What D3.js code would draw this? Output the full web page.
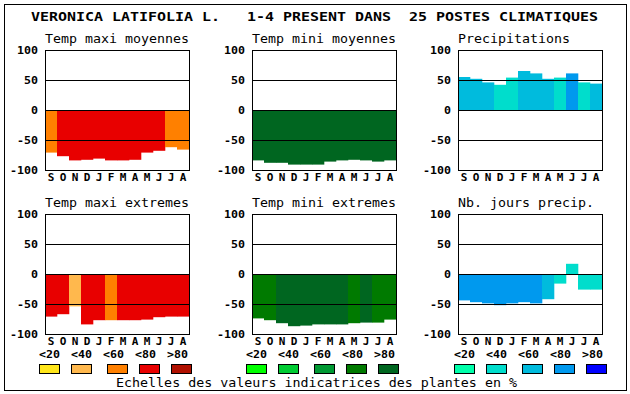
<!DOCTYPE html>
<html><head><meta charset="utf-8">
<script src="https://cdn.jsdelivr.net/npm/d3@7"></script>
<style>body{margin:0;background:#fff}svg{display:block}</style>
</head><body>
<script>
const months = ["S","O","N","D","J","F","M","A","M","J","J","A"];
const tickValues = [100, 50, 0, -50, -100];
const gridValues = [50, 0, -50];
const legendLabels = ["<20","<40","<60","<80",">80"];
const tempColors = ["#ffe61a","#ffb84d","#ff8000","#e80000","#b01000"];
const greenColors = ["#00ff00","#00cc33","#009933","#007a00","#006620"];
const blueColors = ["#00ffaa","#00ddcc","#00bbdd","#0099ee","#0000ff"];

const mainTitle = "VERONICA LATIFOLIA L.   1-4 PRESENT DANS  25 POSTES CLIMATIQUES";
const caption = "Echelles des valeurs indicatrices des plantes en %";
const panelTitles = ["Temp maxi moyennes","Temp mini moyennes","Precipitations",
                     "Temp maxi extremes","Temp mini extremes","Nb. jours precip."];

const tmaxMoy      = [-71,-77,-84,-83,-81,-84,-84,-83,-71,-68,-62,-66];
const tmaxMoyClass = [2,3,3,3,3,3,3,3,3,3,2,2];
const tminMoy      = [-84,-88,-88,-91,-91,-91,-86,-84,-83,-84,-86,-84];
const tminMoyClass = [4,4,4,4,4,4,4,4,4,4,4,4];
const precip       = [55,52,46,42,54,65,61,52,54,61,46,44];
const precipClass  = [2,2,2,1,1,2,2,2,1,3,1,2];
const tmaxExt      = [-71,-67,-54,-84,-77,-77,-77,-77,-76,-72,-71,-71];
const tmaxExtClass = [3,3,1,3,3,2,3,3,3,3,3,3];
const tminExt      = [-74,-77,-82,-87,-86,-84,-84,-84,-82,-81,-81,-76];
const tminExtClass = [3,3,4,4,4,4,4,4,3,4,3,3];
const nbJours      = [-44,-47,-49,-52,-49,-47,-49,-42,-16,17,-26,-26];
const nbJoursClass = [3,3,3,3,3,3,3,2,1,1,1,1];

const W = 630, H = 394;
const svg = d3.select("body").append("svg").attr("width", W).attr("height", H);
const MONO = "'DejaVu Sans Mono', 'Liberation Mono', monospace";

svg.append("rect").attr("x",4.5).attr("y",4.5).attr("width",622).attr("height",386)
  .attr("fill","#fff").attr("stroke","#000").attr("stroke-width",1);

svg.append("text").attr("x",31).attr("y",21)
  .attr("font-family",MONO).attr("font-weight","bold").attr("font-size",12)
  .attr("textLength",567).attr("lengthAdjust","spacingAndGlyphs")
  .style("white-space","pre").text(mainTitle);

const plotLefts = [45, 252, 458];
const rowTops = [50, 214];
const plotW = 144, plotH = 120;

const panels = [
  {vals:tmaxMoy, cls:tmaxMoyClass, pal:tempColors},
  {vals:tminMoy, cls:tminMoyClass, pal:greenColors},
  {vals:precip,  cls:precipClass,  pal:blueColors},
  {vals:tmaxExt, cls:tmaxExtClass, pal:tempColors},
  {vals:tminExt, cls:tminExtClass, pal:greenColors},
  {vals:nbJours, cls:nbJoursClass, pal:blueColors}
];

panels.forEach((p, i) => {
  const x0 = plotLefts[i % 3], y0 = rowTops[Math.floor(i / 3)];
  const x = d3.scaleBand().domain(d3.range(12)).range([x0, x0 + plotW]).padding(0);
  const y = d3.scaleLinear().domain([-100, 100]).range([y0 + plotH, y0]);
  const g = svg.append("g");

  g.append("text").attr("x", x0).attr("y", y0 - 7)
    .attr("font-family", MONO).attr("font-size", 13)
    .attr("textLength", panelTitles[i].length * 8).attr("lengthAdjust","spacingAndGlyphs")
    .text(panelTitles[i]);

  g.append("rect").attr("x", x0 + 0.5).attr("y", y0 + 0.5)
    .attr("width", plotW).attr("height", plotH).attr("fill", "#fff");

  g.selectAll(".bar").data(p.vals).join("rect")
    .attr("x", (d, k) => x(k)).attr("width", x.bandwidth() + 0.3)
    .attr("y", d => Math.min(y(0), y(d)))
    .attr("height", d => Math.abs(y(d) - y(0)))
    .attr("fill", (d, k) => p.pal[p.cls[k]]);

  g.selectAll(".grid").data(gridValues).join("line")
    .attr("x1", x0).attr("x2", x0 + plotW)
    .attr("y1", d => Math.round(y(d)) + 0.5).attr("y2", d => Math.round(y(d)) + 0.5)
    .attr("stroke", "#000").attr("stroke-width", 1);

  g.append("rect").attr("x", x0 + 0.5).attr("y", y0 + 0.5)
    .attr("width", plotW).attr("height", plotH)
    .attr("fill", "none").attr("stroke", "#000").attr("stroke-width", 1);

  g.selectAll(".tick").data(tickValues).join("text")
    .attr("x", x0 - 7).attr("y", d => y(d) + 4)
    .attr("text-anchor", "end")
    .attr("font-family", MONO).attr("font-weight", "bold").attr("font-size", 11)
    .attr("textLength", d => String(d).length * 7).attr("lengthAdjust","spacingAndGlyphs")
    .text(d => d);

  g.selectAll(".month").data(months).join("text")
    .attr("x", (d, k) => x(k) + x.bandwidth() / 2).attr("y", y0 + plotH + 11)
    .attr("text-anchor", "middle")
    .attr("font-family", MONO).attr("font-weight", "bold").attr("font-size", 11)
    .text(d => d);
});

const legendStarts = [39, 246, 454];
const boxOffsets = [0, 32, 68, 100, 132];
const palettes = [tempColors, greenColors, blueColors];
legendStarts.forEach((lx, gi) => {
  const g = svg.append("g");
  g.selectAll("text").data(legendLabels).join("text")
    .attr("x", (d, k) => lx + k * 32).attr("y", 358)
    .attr("font-family", MONO).attr("font-weight", "bold").attr("font-size", 11)
    .attr("textLength", 21).attr("lengthAdjust","spacingAndGlyphs")
    .text(d => d);
  g.selectAll("rect").data(palettes[gi]).join("rect")
    .attr("x", (d, k) => lx + boxOffsets[k] + 0.5).attr("y", 364.5)
    .attr("width", 20).attr("height", 9)
    .attr("fill", d => d).attr("stroke", "#000").attr("stroke-width", 1);
});

svg.append("text").attr("x", 116).attr("y", 387)
  .attr("font-family", MONO).attr("font-size", 13)
  .attr("textLength", 401).attr("lengthAdjust","spacingAndGlyphs")
  .text(caption);
</script>
</body></html>
